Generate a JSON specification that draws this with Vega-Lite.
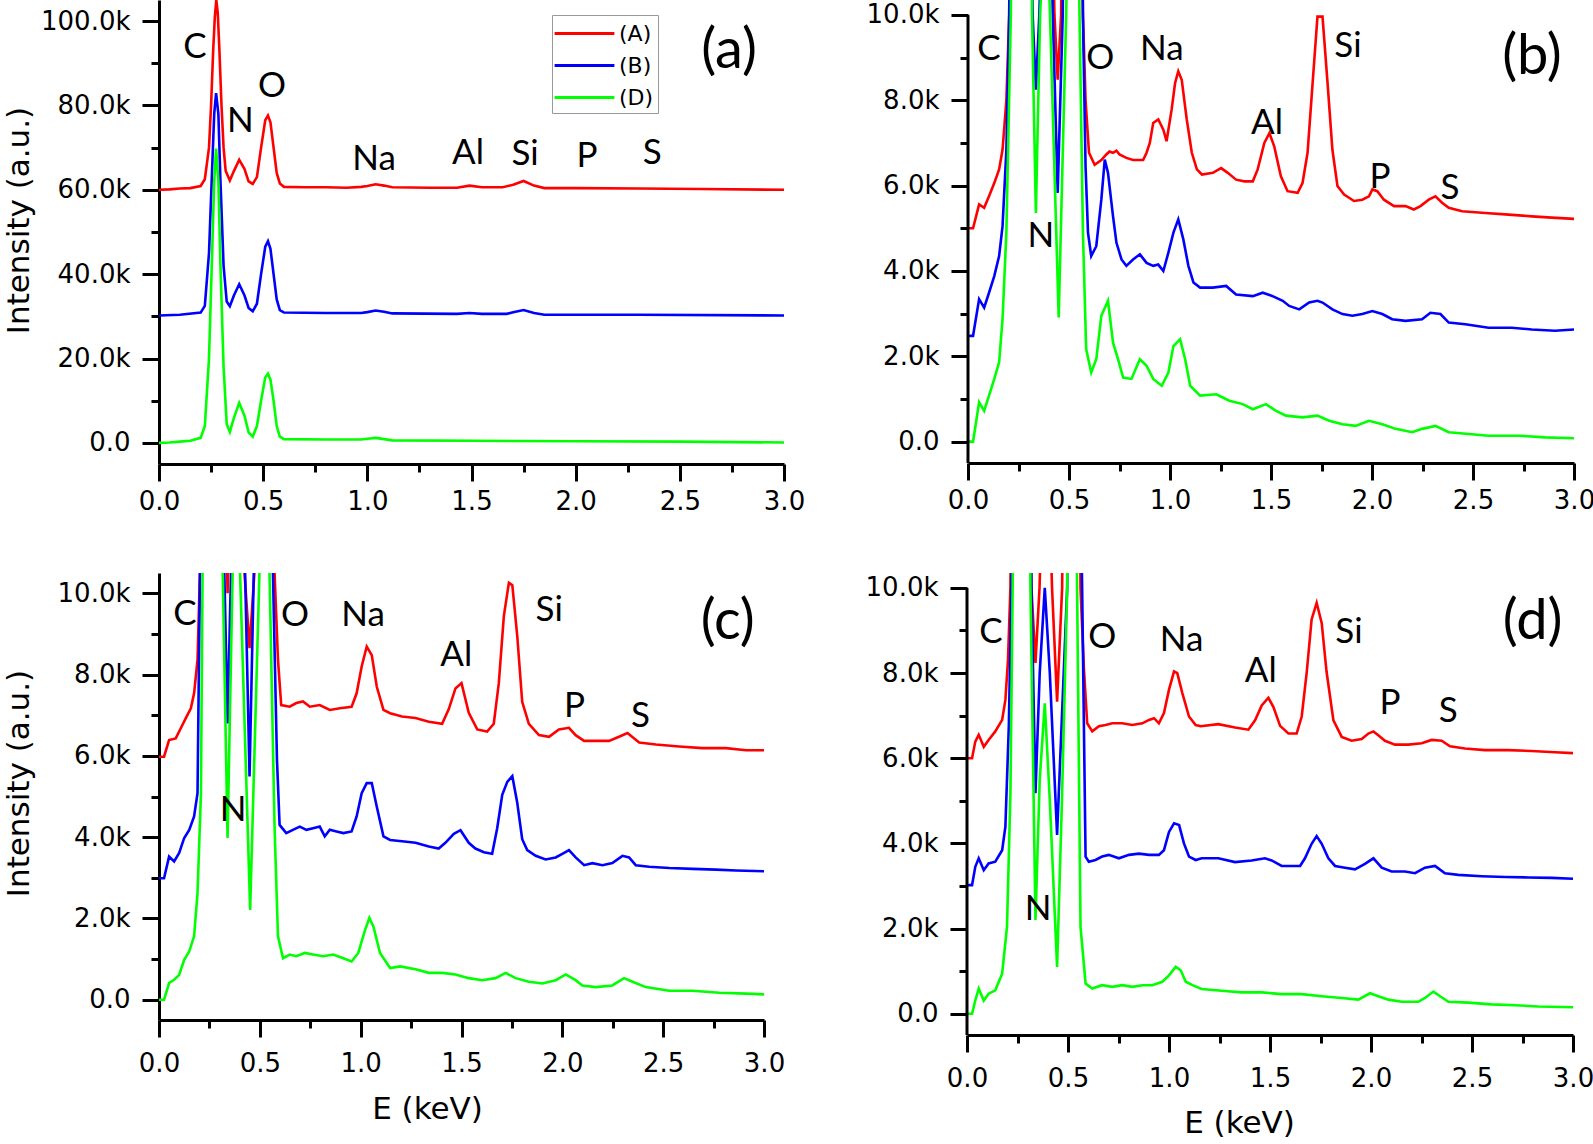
{
"$schema":"https://vega.github.io/schema/vega-lite/v6.json",
"padding":{"left":3,"top":0,"right":0,"bottom":0},
"config":{"view":{"stroke":null},
"axis":{"grid":false,"domainColor":"#000","domainWidth":3,"tickColor":"#000","tickWidth":3,"tickSize":17,"labelColor":"#000","labelFont":"DejaVu Sans","labelFontSize":26,"titleFont":"DejaVu Sans","titleFontSize":31,"titleFontWeight":"normal","titleColor":"#000","labelOverlap":false,"labelFlush":false},
"axisY":{"labelPadding":12},"axisX":{"labelPadding":7},
"text":{"font":"Lato","color":"#000"}},
"datasets":{
"a":[
{"s":"A","x":[0,0.05,0.1,0.15,0.2,0.22,0.24,0.25,0.26,0.268,0.275,0.282,0.29,0.3,0.31,0.32,0.34,0.36,0.385,0.41,0.43,0.45,0.47,0.49,0.51,0.523,0.535,0.55,0.565,0.58,0.6,0.7,0.8,0.9,0.97,1.0,1.04,1.08,1.12,1.3,1.43,1.49,1.55,1.65,1.7,1.75,1.8,1.85,2.0,2.3,2.6,3.0],
"y":[60000,60100,60300,60400,60900,62500,70000,80000,93000,101000,105000,102000,93000,80000,70000,64500,62200,64500,67100,65000,62000,61400,63000,70000,76500,77600,76000,70000,64000,61500,60700,60600,60600,60500,60700,60900,61300,61000,60600,60500,60500,61000,60600,60600,61200,62100,61000,60400,60400,60300,60200,60000]},
{"s":"B","x":[0,0.1,0.2,0.22,0.24,0.255,0.265,0.274,0.285,0.295,0.31,0.325,0.34,0.36,0.385,0.41,0.43,0.45,0.47,0.49,0.51,0.523,0.535,0.55,0.565,0.58,0.6,0.8,0.97,1.0,1.04,1.08,1.12,1.43,1.49,1.55,1.67,1.7,1.75,1.8,1.85,2.3,3.0],
"y":[30200,30400,30900,32500,45000,65000,78000,82900,78000,62000,42000,33500,32400,35000,37600,35000,32000,31200,33000,40000,46500,47800,46000,40000,34000,31500,30900,30800,30800,31000,31400,31100,30700,30600,30800,30600,30600,31000,31500,30800,30400,30400,30200]},
{"s":"D","x":[0,0.05,0.1,0.15,0.2,0.22,0.24,0.255,0.265,0.274,0.285,0.295,0.31,0.325,0.34,0.36,0.385,0.41,0.43,0.45,0.47,0.49,0.51,0.523,0.535,0.55,0.565,0.58,0.6,0.8,0.97,1.0,1.04,1.08,1.12,1.5,2.0,2.5,3.0],
"y":[0,100,300,500,1200,4000,20000,45000,62000,69800,62000,42000,18000,4500,2600,6000,9500,6500,2500,1500,4000,10000,15500,16400,15000,10000,4000,1500,900,800,800,1000,1200,900,600,500,400,300,100]}
],
"b":[
{"s":"A","x":[0,0.025,0.055,0.08,0.104,0.13,0.154,0.171,0.19,0.204,0.23,0.275,0.32,0.336,0.36,0.39,0.415,0.428,0.444,0.461,0.49,0.52,0.55,0.569,0.582,0.599,0.627,0.66,0.685,0.7,0.718,0.735,0.75,0.784,0.817,0.867,0.884,0.9,0.917,0.942,0.967,0.983,1.008,1.025,1.041,1.058,1.083,1.108,1.133,1.158,1.212,1.253,1.286,1.327,1.368,1.41,1.434,1.467,1.492,1.516,1.549,1.582,1.632,1.656,1.681,1.706,1.73,1.755,1.78,1.804,1.829,1.862,1.911,1.952,1.985,2.002,2.026,2.059,2.109,2.166,2.207,2.24,2.281,2.314,2.347,2.38,2.446,2.561,2.676,2.791,2.89,3.0],
"y":[5000,5000,5560,5480,5750,6060,6380,6840,8000,10000,30000,60000,18000,13000,16000,22000,13000,10000,8480,10000,30000,45000,20000,10000,8000,6770,6490,6600,6730,6800,6770,6820,6730,6650,6600,6600,6770,7000,7470,7550,7310,7040,7780,8400,8680,8480,7550,6770,6380,6260,6300,6410,6300,6140,6100,6100,6380,7000,7230,6920,6220,5870,5830,6060,6770,8400,9960,9960,8400,6840,5990,5790,5640,5670,5750,5910,5870,5670,5520,5520,5440,5520,5670,5750,5600,5480,5400,5360,5320,5280,5250,5220]},
{"s":"B","x":[0,0.025,0.055,0.08,0.104,0.13,0.154,0.171,0.19,0.204,0.275,0.31,0.32,0.336,0.353,0.39,0.42,0.444,0.469,0.52,0.569,0.582,0.594,0.61,0.635,0.66,0.677,0.693,0.718,0.735,0.76,0.784,0.817,0.851,0.884,0.917,0.942,0.967,0.992,1.017,1.041,1.066,1.091,1.116,1.149,1.212,1.278,1.327,1.41,1.459,1.508,1.558,1.59,1.64,1.689,1.73,1.755,1.804,1.854,1.903,1.952,2.002,2.051,2.1,2.166,2.248,2.289,2.339,2.38,2.462,2.577,2.692,2.791,2.906,3.0],
"y":[2480,2480,3340,3140,3490,3880,4350,5050,6840,10000,50000,13000,10000,8250,10000,16000,10000,5830,10000,35000,10000,6450,4900,4350,4580,5670,6610,6300,5280,4660,4270,4120,4270,4390,4190,4120,4150,4000,4430,4900,5210,4740,4120,3730,3610,3610,3650,3450,3410,3490,3410,3300,3180,3100,3260,3300,3260,3100,2990,2950,2990,3060,2990,2870,2830,2870,3020,2990,2790,2750,2670,2670,2630,2600,2630]},
{"s":"D","x":[0,0.025,0.055,0.08,0.104,0.13,0.154,0.171,0.19,0.212,0.275,0.317,0.336,0.357,0.385,0.406,0.449,0.486,0.52,0.552,0.569,0.585,0.61,0.635,0.66,0.693,0.718,0.743,0.768,0.809,0.851,0.884,0.917,0.959,0.992,1.017,1.05,1.075,1.1,1.149,1.229,1.294,1.36,1.41,1.475,1.525,1.574,1.656,1.73,1.788,1.854,1.919,1.985,2.051,2.117,2.199,2.248,2.314,2.38,2.479,2.577,2.725,2.857,3.0],
"y":[0,0,920,720,1080,1470,1860,2870,4900,10000,40000,10000,5360,10000,13000,10000,2910,10000,20000,10000,4900,2170,1620,1930,2950,3300,2320,1930,1500,1470,1930,1780,1470,1310,1620,2240,2400,1930,1310,1080,1110,960,880,760,880,720,610,570,610,490,410,370,490,410,300,220,300,370,220,180,140,140,100,80]}
],
"c":[
{"s":"A","x":[0,0.025,0.05,0.083,0.108,0.133,0.158,0.174,0.191,0.203,0.24,0.275,0.32,0.34,0.36,0.39,0.424,0.449,0.473,0.52,0.573,0.59,0.606,0.648,0.681,0.714,0.748,0.797,0.847,0.897,0.955,0.98,1.005,1.03,1.055,1.08,1.113,1.146,1.205,1.272,1.338,1.404,1.437,1.47,1.5,1.536,1.578,1.627,1.66,1.685,1.71,1.735,1.752,1.776,1.801,1.834,1.884,1.934,1.983,2.033,2.066,2.108,2.166,2.232,2.281,2.323,2.381,2.464,2.579,2.695,2.811,2.911,3.0],
"y":[5980,5980,6390,6430,6680,6930,7170,7540,8360,10500,30000,50000,15000,10000,15000,20000,10500,8650,10500,40000,10500,8360,7250,7210,7300,7340,7210,7250,7130,7170,7210,7540,8200,8690,8480,7700,7130,7050,6970,6930,6840,6790,7150,7660,7790,7060,6650,6600,6790,7790,9440,10260,10200,8980,7330,6790,6510,6470,6650,6690,6510,6370,6370,6370,6470,6560,6330,6280,6230,6190,6190,6140,6140]},
{"s":"B","x":[0,0.025,0.05,0.075,0.1,0.125,0.15,0.174,0.191,0.203,0.275,0.324,0.34,0.357,0.39,0.427,0.449,0.47,0.52,0.565,0.585,0.598,0.631,0.664,0.698,0.731,0.764,0.797,0.822,0.847,0.88,0.914,0.955,0.98,1.005,1.03,1.055,1.08,1.113,1.146,1.205,1.272,1.338,1.387,1.42,1.462,1.495,1.536,1.569,1.611,1.652,1.677,1.702,1.727,1.752,1.776,1.801,1.826,1.868,1.917,1.967,2.0,2.033,2.066,2.108,2.149,2.199,2.248,2.298,2.331,2.364,2.43,2.53,2.646,2.762,2.861,3.0],
"y":[2990,2990,3520,3400,3610,3980,4180,4510,5080,10500,40000,10500,6800,10500,15000,10500,5490,10500,30000,10500,5900,4300,4100,4180,4260,4180,4220,4260,4020,4180,4140,4100,4140,4510,5080,5330,5330,4750,4020,3930,3900,3860,3770,3720,3860,4080,4170,3860,3720,3630,3590,4220,5040,5360,5500,4860,3950,3680,3540,3450,3500,3590,3680,3500,3310,3360,3310,3360,3540,3500,3310,3270,3240,3220,3200,3180,3160]},
{"s":"D","x":[0,0.025,0.05,0.075,0.1,0.125,0.15,0.174,0.191,0.208,0.216,0.275,0.316,0.34,0.365,0.385,0.402,0.452,0.498,0.52,0.548,0.573,0.59,0.615,0.648,0.681,0.723,0.764,0.814,0.864,0.914,0.955,0.988,1.022,1.043,1.063,1.096,1.146,1.196,1.272,1.338,1.404,1.47,1.536,1.603,1.669,1.719,1.768,1.834,1.901,1.967,2.017,2.066,2.099,2.166,2.248,2.306,2.348,2.414,2.53,2.646,2.778,2.911,3.0],
"y":[0,0,410,490,610,980,1190,1560,2620,5080,10500,40000,10500,3980,10500,13000,10500,2210,10500,20000,10500,4260,1560,1020,1110,1070,1150,1110,1070,1110,1020,940,1150,1720,2010,1800,1150,780,820,750,660,660,620,530,480,530,660,530,440,400,480,620,480,350,310,350,530,440,310,220,220,170,150,130]}
],
"d":[
{"s":"A","x":[0,0.025,0.041,0.058,0.083,0.107,0.14,0.174,0.19,0.203,0.215,0.26,0.3,0.319,0.339,0.359,0.39,0.421,0.446,0.471,0.52,0.562,0.579,0.595,0.62,0.653,0.686,0.719,0.769,0.818,0.868,0.901,0.926,0.95,0.975,1.0,1.025,1.041,1.066,1.099,1.132,1.157,1.244,1.327,1.393,1.426,1.459,1.492,1.517,1.55,1.591,1.632,1.657,1.682,1.706,1.731,1.756,1.78,1.814,1.855,1.904,1.954,1.987,2.012,2.036,2.069,2.119,2.185,2.251,2.3,2.35,2.391,2.465,2.564,2.68,2.795,2.911,3.0],
"y":[6000,6000,6390,6550,6270,6430,6630,6900,7370,8310,10000,40000,15000,10000,8240,10000,15000,10000,7330,10000,40000,10000,8080,6820,6630,6750,6780,6820,6820,6780,6820,6900,6940,6820,7060,7610,8040,8000,7530,6980,6780,6750,6800,6720,6670,6890,7240,7420,7200,6760,6580,6580,6980,8030,9260,9650,9170,8030,6890,6500,6410,6450,6580,6630,6540,6410,6320,6320,6350,6430,6410,6280,6230,6190,6190,6170,6140,6120]},
{"s":"B","x":[0,0.025,0.041,0.058,0.083,0.107,0.14,0.174,0.19,0.207,0.22,0.27,0.319,0.339,0.36,0.385,0.41,0.446,0.496,0.52,0.57,0.587,0.603,0.636,0.669,0.702,0.752,0.802,0.851,0.901,0.95,0.975,1.0,1.025,1.05,1.074,1.099,1.132,1.162,1.244,1.327,1.409,1.475,1.508,1.558,1.607,1.649,1.673,1.706,1.731,1.756,1.789,1.822,1.871,1.921,1.97,2.012,2.053,2.102,2.168,2.218,2.267,2.317,2.366,2.432,2.548,2.663,2.779,2.894,3.0],
"y":[3020,3020,3450,3650,3370,3530,3570,3840,4390,6750,10000,40000,10000,5180,8000,10000,8000,4200,10000,25000,10000,3690,3570,3610,3690,3730,3650,3730,3760,3730,3730,3840,4270,4470,4430,4000,3690,3610,3650,3650,3560,3600,3650,3600,3470,3470,3470,3650,3990,4170,3990,3650,3470,3430,3390,3520,3650,3430,3340,3340,3300,3430,3470,3300,3260,3230,3210,3200,3190,3170]},
{"s":"D","x":[0,0.025,0.041,0.058,0.083,0.107,0.14,0.174,0.198,0.215,0.226,0.27,0.314,0.339,0.36,0.385,0.41,0.446,0.47,0.496,0.52,0.545,0.562,0.587,0.62,0.669,0.719,0.769,0.818,0.868,0.917,0.967,1.0,1.033,1.058,1.083,1.116,1.162,1.261,1.36,1.459,1.558,1.657,1.756,1.855,1.937,1.995,2.036,2.086,2.152,2.234,2.267,2.309,2.342,2.383,2.482,2.597,2.713,2.828,3.0],
"y":[0,0,310,590,310,470,550,940,2040,5180,10000,40000,10000,2200,5500,7290,5000,1100,5000,10000,20000,10000,2040,710,590,670,630,670,630,670,670,750,900,1100,1020,750,670,580,540,500,500,460,460,410,370,330,480,410,330,280,280,370,520,410,280,260,220,200,170,150]}
]
},
"spacing":59,
"resolve":{"scale":{"color":"independent"}},
"vconcat":[
{"hconcat":[
{"width":625,"height":464,"resolve":{"axis":{"x":"independent","y":"independent"}},"layer":[
{"data":{"name":"a"},"transform":[{"flatten":["x","y"]}],"mark":{"type":"line","clip":true,"strokeWidth":2.6},
"encoding":{
"x":{"field":"x","type":"quantitative","scale":{"domain":[0,3],"nice":false,"zero":false},"axis":{"orient":"bottom","title":null,"values":[0,0.5,1,1.5,2,2.5,3],"format":".1f"}},
"y":{"field":"y","type":"quantitative","scale":{"domain":[-5000,105000],"nice":false,"zero":false},"axis":{"orient":"left","title":"Intensity (a.u.)","titlePadding":5,"titleY":220,"values":[0,20000,40000,60000,80000,100000],"labelExpr":"datum.value === 0 ? '0.0' : format(datum.value/1000, '.1f') + 'k'"}},
"color":{"field":"s","type":"nominal","scale":{"domain":["A","B","D"],"range":["#ff0000","#0000ff","#00ff00"]},
"legend":{"orient":"none","legendX":393,"legendY":15,"title":null,"symbolType":"M-2.3,0H2.3","symbolSize":676,"symbolStrokeWidth":3,"symbolOffset":14,"labelOffset":20,"labelFont":"DejaVu Sans","labelFontSize":22,"labelColor":"#000","labelExpr":"'(' + datum.label + ')'","rowPadding":6,"padding":4,"strokeColor":"#999999","fillColor":"#ffffff"}}}},
{"data":{"values":[{"t":"C","x":0.173,"y":93800},{"t":"N","x":0.391,"y":76400},{"t":"O","x":0.542,"y":84500},{"t":"Na","x":1.032,"y":67400},{"t":"Al","x":1.483,"y":68800},{"t":"Si","x":1.757,"y":68500},{"t":"P","x":2.055,"y":68100},{"t":"S","x":2.367,"y":68800}]},
"mark":{"type":"text","fontSize":35},"encoding":{
"x":{"field":"x","type":"quantitative","axis":{"orient":"bottom","title":null,"values":[0.25,0.75,1.25,1.75,2.25,2.75],"labels":false,"domain":false,"tickSize":8}},
"y":{"field":"y","type":"quantitative","axis":{"orient":"left","title":null,"values":[10000,30000,50000,70000,90000],"labels":false,"domain":false,"tickSize":8}},
"text":{"field":"t"}}},
{"data":{"values":[{"t":"(a)","x":2.736,"y":92900}]},"mark":{"type":"text","fontSize":56},"encoding":{"x":{"field":"x","type":"quantitative","axis":null},"y":{"field":"y","type":"quantitative","axis":null},"text":{"field":"t"}}}
]},
{"width":606,"height":463,"resolve":{"axis":{"x":"independent","y":"independent"}},"layer":[
{"data":{"name":"b"},"transform":[{"flatten":["x","y"]}],"mark":{"type":"line","clip":true,"strokeWidth":2.6},
"encoding":{
"x":{"field":"x","type":"quantitative","scale":{"domain":[0,3],"nice":false,"zero":false},"axis":{"orient":"bottom","title":null,"values":[0,0.5,1,1.5,2,2.5,3],"format":".1f"}},
"y":{"field":"y","type":"quantitative","scale":{"domain":[-500,10350],"nice":false,"zero":false},"axis":{"orient":"left","title":null,"domain":false,"values":[0,2000,4000,6000,8000,10000],"labelExpr":"datum.value === 0 ? '0.0' : format(datum.value/1000, '.1f') + 'k'"}},
"color":{"field":"s","type":"nominal","scale":{"domain":["A","B","D"],"range":["#ff0000","#0000ff","#00ff00"]},"legend":null}}},
{"data":{"values":[{}]},"mark":{"type":"rule","strokeWidth":3,"color":"#000"},"encoding":{"x":{"datum":0,"type":"quantitative","axis":null},"y":{"datum":-500,"type":"quantitative","axis":null},"y2":{"datum":10000}}},
{"data":{"values":[{"t":"C","x":0.104,"y":9200},{"t":"N","x":0.361,"y":4820},{"t":"O","x":0.655,"y":8990},{"t":"Na","x":0.96,"y":9200},{"t":"Al","x":1.48,"y":7470},{"t":"Si","x":1.881,"y":9270},{"t":"P","x":2.04,"y":6210},{"t":"S","x":2.386,"y":5950}]},
"mark":{"type":"text","fontSize":35},"encoding":{
"x":{"field":"x","type":"quantitative","axis":{"orient":"bottom","title":null,"values":[0.25,0.75,1.25,1.75,2.25,2.75],"labels":false,"domain":false,"tickSize":8}},
"y":{"field":"y","type":"quantitative","axis":{"orient":"left","title":null,"values":[1000,3000,5000,7000,9000],"labels":false,"domain":false,"tickSize":8}},
"text":{"field":"t"}}},
{"data":{"values":[{"t":"(b)","x":2.792,"y":9020}]},"mark":{"type":"text","fontSize":56},"encoding":{"x":{"field":"x","type":"quantitative","axis":null},"y":{"field":"y","type":"quantitative","axis":null},"text":{"field":"t"}}}
]}
],"spacing":61,"resolve":{"scale":{"color":"independent"}}},
{"hconcat":[
{"width":605,"height":447,"resolve":{"axis":{"x":"independent","y":"independent"}},"layer":[
{"data":{"name":"c"},"transform":[{"flatten":["x","y"]}],"mark":{"type":"line","clip":true,"strokeWidth":2.6},
"encoding":{
"x":{"field":"x","type":"quantitative","scale":{"domain":[0,3],"nice":false,"zero":false},"axis":{"orient":"bottom","title":"E (keV)","titleX":268,"titlePadding":18,"labelPadding":13,"values":[0,0.5,1,1.5,2,2.5,3],"format":".1f"}},
"y":{"field":"y","type":"quantitative","scale":{"domain":[-500,10500],"nice":false,"zero":false},"axis":{"orient":"left","title":"Intensity (a.u.)","titlePadding":22,"titleY":210,"values":[0,2000,4000,6000,8000,10000],"labelExpr":"datum.value === 0 ? '0.0' : format(datum.value/1000, '.1f') + 'k'"}},
"color":{"field":"s","type":"nominal","scale":{"domain":["A","B","D"],"range":["#ff0000","#0000ff","#00ff00"]},"legend":null}}},
{"data":{"values":[{"t":"C","x":0.129,"y":9480},{"t":"N","x":0.367,"y":4670},{"t":"O","x":0.675,"y":9460},{"t":"Na","x":1.012,"y":9460},{"t":"Al","x":1.474,"y":8480},{"t":"Si","x":1.935,"y":9580},{"t":"P","x":2.06,"y":7220},{"t":"S","x":2.387,"y":6980}]},
"mark":{"type":"text","fontSize":35},"encoding":{
"x":{"field":"x","type":"quantitative","axis":{"orient":"bottom","title":null,"values":[0.25,0.75,1.25,1.75,2.25,2.75],"labels":false,"domain":false,"tickSize":8}},
"y":{"field":"y","type":"quantitative","axis":{"orient":"left","title":null,"values":[1000,3000,5000,7000,9000],"labels":false,"domain":false,"tickSize":8}},
"text":{"field":"t"}}},
{"data":{"values":[{"t":"(c)","x":2.82,"y":9290}]},"mark":{"type":"text","fontSize":56},"encoding":{"x":{"field":"x","type":"quantitative","axis":null},"y":{"field":"y","type":"quantitative","axis":null},"text":{"field":"t"}}}
]},
{"width":606,"height":462,"resolve":{"axis":{"x":"independent","y":"independent"}},"layer":[
{"data":{"name":"d"},"transform":[{"flatten":["x","y"]}],"mark":{"type":"line","clip":true,"strokeWidth":2.6},
"encoding":{
"x":{"field":"x","type":"quantitative","scale":{"domain":[0,3],"nice":false,"zero":false},"axis":{"orient":"bottom","title":"E (keV)","titleX":272,"titlePadding":17,"labelPadding":13,"values":[0,0.5,1,1.5,2,2.5,3],"format":".1f"}},
"y":{"field":"y","type":"quantitative","scale":{"domain":[-500,10350],"nice":false,"zero":false},"axis":{"orient":"left","title":null,"domain":false,"values":[0,2000,4000,6000,8000,10000],"labelExpr":"datum.value === 0 ? '0.0' : format(datum.value/1000, '.1f') + 'k'"}},
"color":{"field":"s","type":"nominal","scale":{"domain":["A","B","D"],"range":["#ff0000","#0000ff","#00ff00"]},"legend":null}}},
{"data":{"values":[{}]},"mark":{"type":"rule","strokeWidth":3,"color":"#000"},"encoding":{"x":{"datum":0,"type":"quantitative","axis":null},"y":{"datum":-500,"type":"quantitative","axis":null},"y2":{"datum":10000}}},
{"data":{"values":[{"t":"C","x":0.119,"y":8960},{"t":"N","x":0.352,"y":2450},{"t":"O","x":0.67,"y":8850},{"t":"Na","x":1.062,"y":8780},{"t":"Al","x":1.454,"y":8050},{"t":"Si","x":1.891,"y":8960},{"t":"P","x":2.094,"y":7290},{"t":"S","x":2.382,"y":7110}]},
"mark":{"type":"text","fontSize":35},"encoding":{
"x":{"field":"x","type":"quantitative","axis":{"orient":"bottom","title":null,"values":[0.25,0.75,1.25,1.75,2.25,2.75],"labels":false,"domain":false,"tickSize":8}},
"y":{"field":"y","type":"quantitative","axis":{"orient":"left","title":null,"values":[1000,3000,5000,7000,9000],"labels":false,"domain":false,"tickSize":8}},
"text":{"field":"t"}}},
{"data":{"values":[{"t":"(d)","x":2.8,"y":9200}]},"mark":{"type":"text","fontSize":56},"encoding":{"x":{"field":"x","type":"quantitative","axis":null},"y":{"field":"y","type":"quantitative","axis":null},"text":{"field":"t"}}}
]}
],"spacing":80,"resolve":{"scale":{"color":"independent"}}}
]
}
